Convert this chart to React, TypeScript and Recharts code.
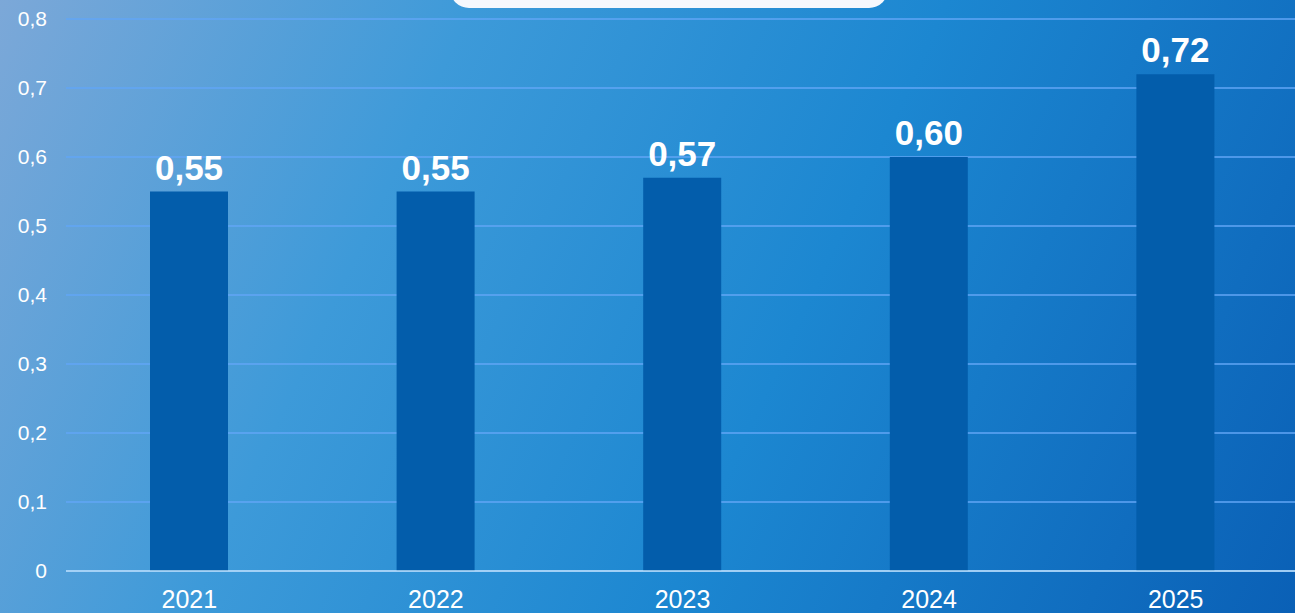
import React from 'react';
import {Bar, BarChart, CartesianGrid, LabelList, XAxis, YAxis} from 'recharts';

const years = ['2021', '2022', '2023', '2024', '2025'];
const values = [0.55, 0.55, 0.57, 0.6, 0.72];
const yTicks = [0, 0.1, 0.2, 0.3, 0.4, 0.5, 0.6, 0.7, 0.8];

const data = years.map((year, i) => ({year, value: values[i]}));

const fmtTick = (v: number) => (v === 0 ? '0' : v.toFixed(1).replace('.', ','));
const fmtLabel = (v: any) => Number(v).toFixed(2).replace('.', ',');

const App = () => {
    return (
        <div
            style={{
                position: 'absolute',
                left: 0,
                top: 0,
                width: 1295,
                height: 613,
                overflow: 'hidden',
                background: 'linear-gradient(115deg, #7ca8d8 0%, #3d9ad9 30%, #1c87d1 60%, #0a60b6 100%)',
                fontFamily: '"Liberation Sans", Arial, sans-serif',
            }}
        >
            <div
                style={{
                    position: 'absolute',
                    left: 450,
                    top: -30,
                    width: 438,
                    height: 38,
                    borderRadius: 20,
                    background: '#f6f8fd',
                }}
            />
            <BarChart
                width={1299}
                height={613}
                data={data}
                margin={{top: 19, right: 0, left: 0, bottom: 0}}
                style={{position: 'absolute', left: 0, top: 0}}
            >
                <CartesianGrid horizontal vertical={false} stroke="#62a6f6" strokeWidth={1.3} />
                <XAxis
                    dataKey="year"
                    height={42}
                    axisLine={{stroke: '#bde0f8', strokeWidth: 1.5}}
                    tickLine={false}
                    tickSize={0}
                    tickMargin={19}
                    tick={{fill: '#ffffff', fontSize: 25}}
                />
                <YAxis
                    width={66}
                    domain={[0, 0.8]}
                    ticks={yTicks}
                    tickFormatter={fmtTick}
                    axisLine={false}
                    tickLine={false}
                    tickSize={0}
                    tickMargin={19}
                    tick={{fill: '#ffffff', fontSize: 21}}
                />
                <Bar dataKey="value" fill="#035dab" barSize={78} isAnimationActive={false}>
                    <LabelList
                        dataKey="value"
                        position="top"
                        offset={12}
                        formatter={fmtLabel}
                        fill="#ffffff"
                        fontSize={35}
                        fontWeight="bold"
                    />
                </Bar>
            </BarChart>
        </div>
    );
};

export default App;
